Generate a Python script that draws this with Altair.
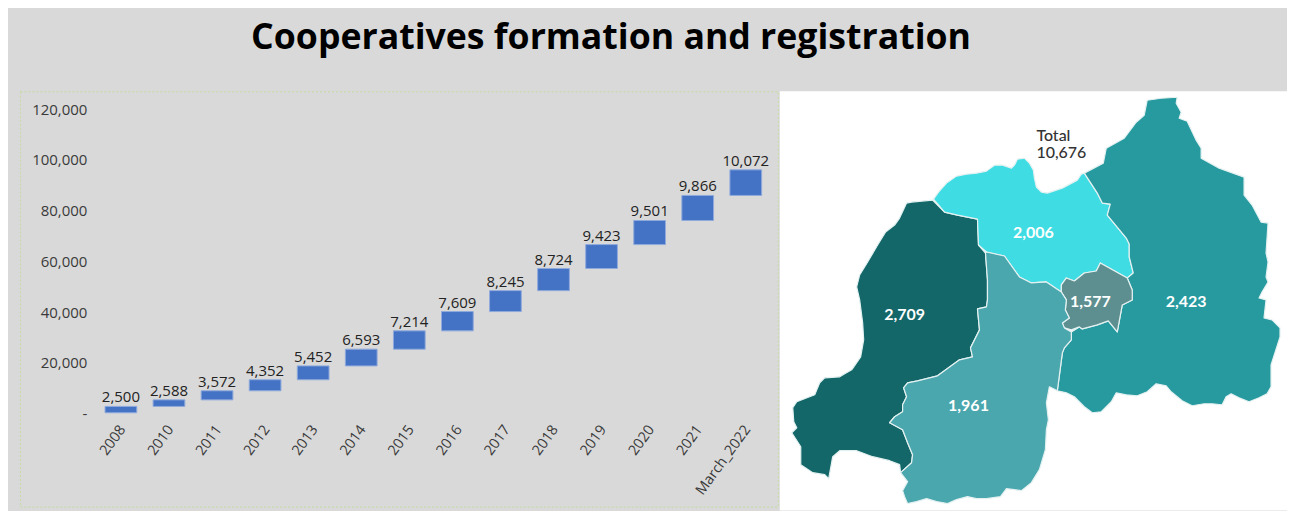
import altair as alt
import pandas as pd

TITLE = "Cooperatives formation and registration"
years = ["2008", "2010", "2011", "2012", "2013", "2014", "2015", "2016", "2017", "2018", "2019", "2020", "2021", "March_2022"]
registered = [2500, 2588, 3572, 4352, 5452, 6593, 7214, 7609, 8245, 8724, 9423, 9501, 9866, 10072]
y_ticks = [0, 20000, 40000, 60000, 80000, 100000, 120000]

region_names = ["West", "North", "East", "Kigali", "South"]
region_counts = ["2,709", "2,006", "2,423", "1,577", "1,961"]
region_colors = ["#136769", "#3fdde3", "#279a9f", "#5e8f90", "#4ba7ae"]
label_x = [905, 1034, 1187, 1091, 969]
label_y = [315, 233, 302, 302, 406]
total_lines = ["Total", "10,676"]
total_x = [1037, 1037]
total_y = [136, 153]

west = [(933,200),(912,202),(907,203),(900,218),(895,225),(886,232),(878,245),(868,262),(860,275),(857,287),(860,300),(863,323),(864,340),(861,357),(852,370),(845,374),(840,377),(825,378),(820,383),(815,395),(797,402),(793,408),(794,422),(797,428),(792,433),(801,447),(801,465),(813,473),(825,475),(829,479),(833,457),(840,451),(857,451),(873,457),(890,461),(900,465),(901,473),(912,463),(913,455),(908,443),(903,430),(890,423),(895,417),(903,412),(903,405),(907,397),(904,388),(908,383),(918,381),(938,376),(960,360),(973,357),(971,348),(980,330),(978,309),(987,307),(988,300),(988,280),(986,253),(979,245),(978,219),(958,215),(945,212)]
north = [(934,199),(939,192),(947,183),(957,176),(967,174),(977,173),(987,171),(995,165),(1003,165),(1012,168),(1015,165),(1018,159),(1025,158),(1030,163),(1034,170),(1035,178),(1037,187),(1042,192),(1048,193),(1063,188),(1078,180),(1082,174),(1085,173),(1098,193),(1103,203),(1111,204),(1108,215),(1127,238),(1130,244),(1130,257),(1134,273),(1128,278),(1101,263),(1097,271),(1085,273),(1075,281),(1067,278),(1062,285),(1062,292),(1047,282),(1032,283),(1020,277),(1005,256),(987,252),(979,245),(978,219),(958,215),(945,212)]
east = [(1085,173),(1104,163),(1107,148),(1125,138),(1137,122),(1145,115),(1148,100),(1162,98),(1178,97),(1177,103),(1182,112),(1180,118),(1188,121),(1197,140),(1202,148),(1202,158),(1220,168),(1245,177),(1245,195),(1253,205),(1262,222),(1269,223),(1267,253),(1269,262),(1267,277),(1269,282),(1263,292),(1260,298),(1267,300),(1265,318),(1273,320),(1281,328),(1281,337),(1272,365),(1272,387),(1268,394),(1260,398),(1250,402),(1240,398),(1232,394),(1227,397),(1223,405),(1213,404),(1205,404),(1193,406),(1183,401),(1172,392),(1167,386),(1157,384),(1148,392),(1138,396),(1127,395),(1117,393),(1112,402),(1102,412),(1093,413),(1085,407),(1075,397),(1067,393),(1058,391),(1063,353),(1065,348),(1072,340),(1072,332),(1080,327),(1083,329),(1098,325),(1109,321),(1118,332),(1123,305),(1133,300),(1133,290),(1128,278),(1134,273),(1130,257),(1130,244),(1127,238),(1108,215),(1111,204),(1103,203),(1098,193)]
kigali = [(1128,278),(1133,290),(1133,300),(1123,305),(1118,332),(1109,321),(1098,325),(1083,329),(1080,327),(1072,330),(1065,328),(1063,323),(1070,318),(1066,310),(1067,300),(1062,292),(1062,285),(1067,278),(1075,281),(1085,273),(1097,271),(1101,263)]
south = [(987,252),(1005,256),(1020,277),(1032,283),(1047,282),(1062,292),(1067,300),(1066,310),(1070,318),(1063,323),(1065,328),(1072,332),(1072,340),(1065,348),(1063,353),(1058,391),(1050,387),(1047,403),(1049,420),(1047,430),(1046,450),(1040,470),(1032,483),(1022,491),(1007,489),(1001,497),(987,499),(977,499),(968,497),(957,500),(948,504),(937,502),(927,499),(917,502),(908,504),(905,497),(903,491),(908,482),(901,473),(912,463),(913,455),(908,443),(903,430),(890,423),(895,417),(903,412),(903,405),(907,397),(904,388),(908,383),(918,381),(938,376),(960,360),(973,357),(971,348),(980,330),(978,309),(987,307),(988,300),(988,280),(986,253)]
outlines = [west, north, east, kigali, south]

FONT = "Open Sans"
GREY = "#d9d9d9"

# ---- title strip
title_panel = (
    alt.Chart(pd.DataFrame({"t": [TITLE]}))
    .mark_text(font=FONT, fontWeight="bold", fontSize=35.7, color="#000000", align="center", baseline="middle")
    .encode(x=alt.value(592), y=alt.value(30), text="t:N")
    .properties(width=1268, height=82, view=alt.ViewBackground(stroke=None))
)

# ---- waterfall
df = pd.DataFrame({"year": years, "value": registered})
df["end"] = df["value"].cumsum()
df["start"] = df["end"] - df["value"]
df["label"] = df["value"].map(lambda v: f"{v:,}")

x_scale = alt.Scale(domain=years, range=[77, 751], paddingInner=0.34, paddingOuter=0.17)
y_scale = alt.Scale(domain=[0, 120000], range=[322, 17], nice=False)

bars = (
    alt.Chart(df)
    .mark_bar(color="#4472c4", stroke="#8faadc", strokeWidth=1)
    .encode(
        x=alt.X("year:N", sort=years, scale=x_scale, title=None,
                axis=alt.Axis(orient="bottom", offset=-80, labelAngle=-54, labelAlign="right",
                              labelBaseline="middle", labelFont=FONT, labelFontSize=14.5,
                              labelColor="#3a3a3a", labelPadding=0, labelOffset=2, ticks=False, domain=False,
                              labelOverlap=False, labelLimit=200)),
        y=alt.Y("start:Q", scale=y_scale, title=None,
                axis=alt.Axis(orient="left", offset=-69, values=y_ticks, grid=False, ticks=False,
                              domain=False, labelPadding=2, labelFont=FONT, labelFontSize=15,
                              labelColor="#3a3a3a", labelOffset=1,
                              labelExpr="datum.value === 0 ? '-' : format(datum.value, ',')")),
        y2="end:Q",
    )
)
bar_text = (
    alt.Chart(df)
    .mark_text(font=FONT, fontSize=15, color="#222222", baseline="bottom", dy=-1)
    .encode(x=alt.X("year:N", sort=years, scale=x_scale), y=alt.Y("end:Q", scale=y_scale), text="label:N")
)
left = (bars + bar_text).properties(
    width=759, height=416,
    view=alt.ViewBackground(stroke="#c3dca0", strokeDash=[2, 2], strokeWidth=1),
)

# ---- map
features = [
    {"type": "Feature", "properties": {"name": n},
     "geometry": {"type": "Polygon", "coordinates": [[list(p) for p in ring] + [list(ring[0])]]}}
    for n, ring in zip(region_names, outlines)
]
projection = alt.Projection(type="identity", scale=1, translate=[-780, -91])
shapes = (
    alt.Chart(alt.InlineData(values=features))
    .mark_geoshape(stroke="#e4f1f1", strokeWidth=1.2, strokeJoin="round")
    .encode(color=alt.Color("properties.name:N",
                            scale=alt.Scale(domain=region_names, range=region_colors), legend=None))
)
labels = (
    alt.Chart(pd.DataFrame({"x": label_x, "y": label_y, "t": region_counts}))
    .mark_text(font="Lato", fontWeight="bold", fontSize=16, color="#ffffff", align="center", baseline="middle")
    .encode(longitude="x:Q", latitude="y:Q", text="t:N")
)
total = (
    alt.Chart(pd.DataFrame({"x": total_x, "y": total_y, "t": total_lines}))
    .mark_text(font="Lato", fontSize=16, fontWeight=500, color="#333333", align="left", baseline="middle")
    .encode(longitude="x:Q", latitude="y:Q", text="t:N")
)
right = alt.layer(shapes, labels, total).properties(
    width=508, height=420, projection=projection,
    view=alt.ViewBackground(fill="#ffffff", stroke=None),
)

chart = alt.vconcat(
    title_panel,
    alt.hconcat(left, right, spacing=1),
    spacing=0,
).properties(
    background=GREY,
    padding={"left": 11, "top": 0, "right": 0, "bottom": 0},
)

chart.save("out.html", embed_options={"renderer": "svg", "actions": False})
